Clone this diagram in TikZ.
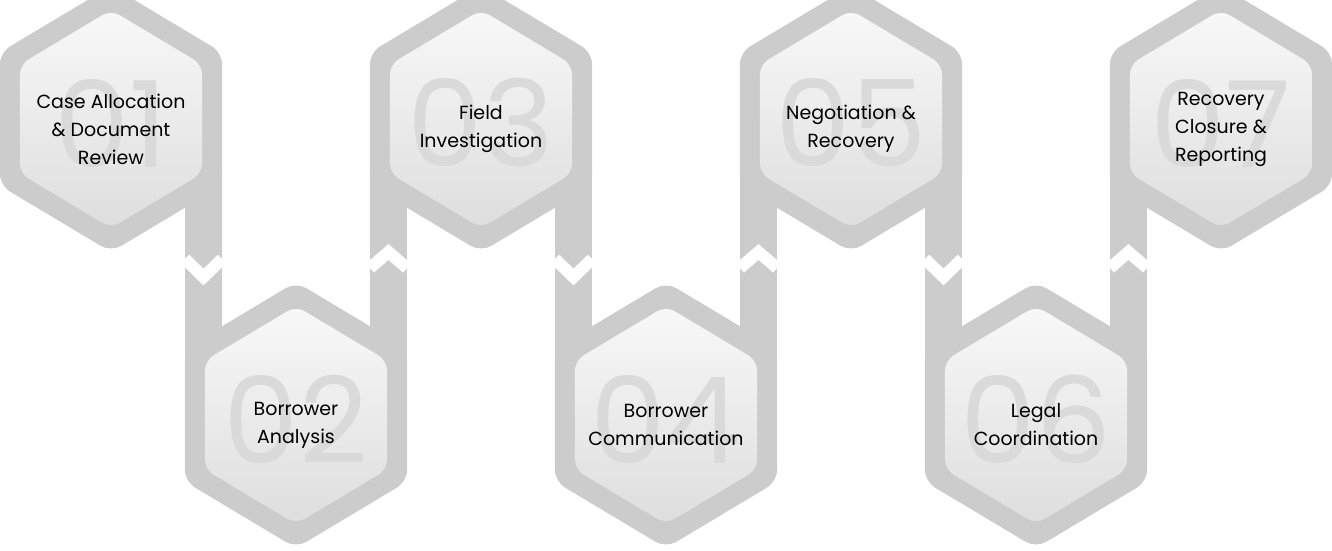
\documentclass[tikz,border=0pt]{standalone}
\usepackage{fontspec}
\setmainfont{Poppins}
\usetikzlibrary{shapes.geometric, calc}
\definecolor{hexouter}{HTML}{CDCCCD}
\definecolor{hextop}{HTML}{F8F8F8}
\definecolor{hexbot}{HTML}{DEDEDE}
\definecolor{numgray}{HTML}{DADADA}

\begin{document}
\begin{tikzpicture}[x=1pt, y=-1pt,
  outer hex/.style={regular polygon, regular polygon sides=6, shape border rotate=30,
    minimum size=266pt, inner sep=0pt, fill=hexouter, rounded corners=12pt,
    transform shape, xscale=0.965},
  inner hex/.style={regular polygon, regular polygon sides=6, shape border rotate=30,
    minimum size=218pt, inner sep=0pt, top color=hextop, bottom color=hexbot,
    rounded corners=10pt, transform shape, xscale=0.965},
  step num/.style={font=\fontsize{120}{120}\selectfont, text=numgray},
  step label/.style={align=center, font=\fontsize{19}{28}\selectfont}]

\useasboundingbox (0,0) rectangle (1332,550);

% connector bars
\foreach \a/\b in {1/2,2/3,3/4,4/5,5/6,6/7}{
  \coordinate (c\a) at ({111+185*(\a-1)}, {mod(\a,2)==1 ? 119 : 415});
  \coordinate (c\b) at ({111+185*(\b-1)}, {mod(\b,2)==1 ? 119 : 415});
  \fill[hexouter] ($(c\a)+(74,0)$) rectangle ($(c\b)+(-74,0)$);
}
% chevron gaps
\foreach \i in {1,3,5}
  \draw[white, line width=12pt, line join=miter]
    ($(c\i)+(74,140)$) -- ($(c\i)+(92.5,158)$) -- ($(c\i)+(111,140)$);
\foreach \i in {2,4,6}
  \draw[white, line width=12pt, line join=miter]
    ($(c\i)+(74,-147)$) -- ($(c\i)+(92.5,-163)$) -- ($(c\i)+(111,-147)$);

% hexagons
\foreach \i/\num/\txt in {1/01/{Case Allocation\\\& Document\\Review},
    2/02/{Borrower\\Analysis}, 3/03/{Field\\Investigation},
    4/04/{Borrower\\Communication}, 5/05/{Negotiation \&\\Recovery},
    6/06/{Legal\\Coordination}, 7/07/{Recovery\\Closure \&\\Reporting}}{
  \node[outer hex] (h\i) at (c\i) {};
  \node[inner hex] (in\i) at (h\i) {};
  \node[step num] (n\i) at ($(h\i)+(0,4)$) {\num};
  \node[step label] (t\i) at ($(h\i)+(0,10)$) {\txt};
}

\end{tikzpicture}
\end{document}
